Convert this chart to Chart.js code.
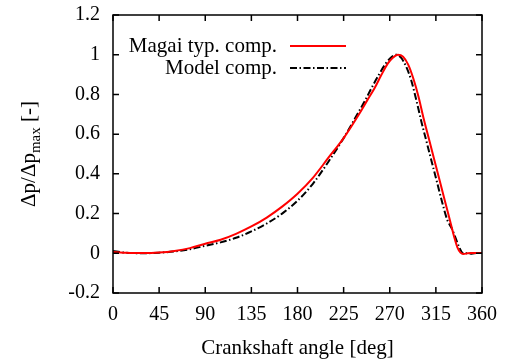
<!DOCTYPE html>
<html>
<head>
<meta charset="utf-8">
<script src="https://cdn.jsdelivr.net/npm/chart.js@4/dist/chart.umd.min.js"></script>
<style>
  html, body { margin: 0; padding: 0; background: #fff; }
  #wrap { width: 505px; height: 361px; }
</style>
</head>
<body>
<div id="wrap"><canvas id="chart-pressure"></canvas></div>
<script>
var magaiAngles = [0, 10, 20, 30, 45, 60, 75, 90, 105, 120, 135, 150, 165, 180, 195, 210, 225, 240, 248, 255, 262, 268, 273, 278, 283, 288, 293, 298, 303, 308, 313, 318, 323, 328, 333, 336, 339, 342, 346, 350, 355, 360];
var magaiValues = [0.006, 0.003, 0.001, 0.001, 0.004, 0.012, 0.026, 0.048, 0.068, 0.098, 0.135, 0.18, 0.235, 0.3, 0.38, 0.48, 0.58, 0.7, 0.77, 0.83, 0.9, 0.955, 0.985, 1.0, 0.99, 0.95, 0.88, 0.79, 0.68, 0.58, 0.48, 0.38, 0.28, 0.18, 0.08, 0.03, 0.003, -0.004, 0.0, 0.002, 0.002, 0.002];

var modelAngles = [0, 10, 20, 30, 45, 60, 75, 90, 105, 120, 135, 150, 165, 180, 195, 210, 225, 240, 246, 252, 260, 266, 271, 276, 281, 286, 291, 296, 301, 306, 311, 316, 321, 326, 331, 334, 337, 340, 343, 346, 350, 355, 360];
var modelValues = [0.012, 0.004, 0.001, 0.0, 0.003, 0.009, 0.02, 0.038, 0.055, 0.078, 0.11, 0.15, 0.2, 0.265, 0.35, 0.46, 0.58, 0.715, 0.77, 0.83, 0.905, 0.955, 0.985, 1.0, 0.985, 0.94, 0.87, 0.77, 0.66, 0.56, 0.46, 0.36, 0.26, 0.17, 0.12, 0.08, 0.04, 0.008, -0.005, 0.003, -0.002, 0.002, 0.0];

var seriesLabels = ['Magai typ. comp.', 'Model comp.'];
var xTickValues = [0, 45, 90, 135, 180, 225, 270, 315, 360];
var yTickValues = [-0.2, 0, 0.2, 0.4, 0.6, 0.8, 1, 1.2];

var FONT = '"Liberation Serif", "DejaVu Serif", serif';
var modelDash = [7, 2.5, 1.5, 2.5];

function toPoints(xs, ys) {
    return xs.map(function (x, i) { return { x: x, y: ys[i] }; });
}

// inward ticks on all four sides, frame, legend and axis titles
var framePlugin = {
    id: 'frame',
    afterDraw: function (chart) {
        var ctx = chart.ctx;
        var a = chart.chartArea;
        var xs = chart.scales.x, ys = chart.scales.y;
        ctx.save();
        ctx.strokeStyle = '#000';
        ctx.lineWidth = 1.5;
        ctx.beginPath();
        xTickValues.forEach(function (v) {
            var px = xs.getPixelForValue(v);
            ctx.moveTo(px, a.bottom); ctx.lineTo(px, a.bottom - 6);
            ctx.moveTo(px, a.top); ctx.lineTo(px, a.top + 6);
        });
        yTickValues.forEach(function (v) {
            var py = ys.getPixelForValue(v);
            ctx.moveTo(a.left, py); ctx.lineTo(a.left + 6, py);
            ctx.moveTo(a.right, py); ctx.lineTo(a.right - 6, py);
        });
        ctx.stroke();
        ctx.strokeRect(a.left, a.top, a.right - a.left, a.bottom - a.top);

        // legend
        ctx.font = '21px ' + FONT;
        ctx.fillStyle = '#000';
        ctx.textAlign = 'right';
        ctx.textBaseline = 'middle';
        var rows = [46, 68];
        chart.data.datasets.forEach(function (ds, i) {
            ctx.fillText(ds.label, 277, rows[i]);
            ctx.beginPath();
            ctx.lineWidth = 2;
            ctx.strokeStyle = ds.borderColor;
            ctx.setLineDash(ds.borderDash || []);
            ctx.moveTo(290, rows[i]);
            ctx.lineTo(346, rows[i]);
            ctx.stroke();
            ctx.setLineDash([]);
        });

        // x title
        ctx.textAlign = 'center';
        ctx.fillText('Crankshaft angle [deg]', (a.left + a.right) / 2, 348);

        // y title with subscript
        ctx.translate(28, (a.top + a.bottom) / 2);
        ctx.rotate(-Math.PI / 2);
        ctx.textAlign = 'left';
        ctx.textBaseline = 'alphabetic';
        var big = '21px ' + FONT, small = '15px ' + FONT;
        ctx.font = big;
        var w1 = ctx.measureText('\u0394p/\u0394p').width;
        var w3 = ctx.measureText(' [-]').width;
        ctx.font = small;
        var w2 = ctx.measureText('max').width;
        var x0 = -(w1 + w2 + w3) / 2;
        ctx.font = big;
        ctx.fillText('\u0394p/\u0394p', x0, 7);
        ctx.font = small;
        ctx.fillText('max', x0 + w1, 12);
        ctx.font = big;
        ctx.fillText(' [-]', x0 + w1 + w2, 7);
        ctx.restore();
    }
};

var config = {
    type: 'line',
    data: {
        datasets: [{
            label: seriesLabels[0],
            data: toPoints(magaiAngles, magaiValues),
            borderColor: '#ff0000',
            borderWidth: 2,
            pointRadius: 0,
            cubicInterpolationMode: 'monotone',
            fill: false
        }, {
            label: seriesLabels[1],
            data: toPoints(modelAngles, modelValues),
            borderColor: '#000000',
            borderWidth: 2,
            borderDash: modelDash,
            pointRadius: 0,
            cubicInterpolationMode: 'monotone',
            fill: false
        }]
    },
    options: {
        responsive: true,
        maintainAspectRatio: false,
        animation: false,
        events: [],
        layout: { padding: { left: 0, right: 23, top: 15, bottom: 0 } },
        plugins: {
            legend: { display: false },
            tooltip: { enabled: false }
        },
        scales: {
            x: {
                type: 'linear',
                min: 0,
                max: 360,
                afterBuildTicks: function (s) {
                    s.ticks = xTickValues.map(function (v) { return { value: v }; });
                },
                afterFit: function (s) {
                    s.height = 68;
                    s.paddingLeft = 0;
                    s.paddingRight = 0;
                },
                grid: { display: false, drawTicks: false },
                border: { display: false },
                ticks: {
                    padding: 10,
                    color: '#000',
                    maxRotation: 0,
                    font: { family: FONT, size: 20 }
                }
            },
            y: {
                type: 'linear',
                min: -0.2,
                max: 1.2,
                afterBuildTicks: function (s) {
                    s.ticks = yTickValues.map(function (v) { return { value: v }; });
                },
                afterFit: function (s) {
                    s.width = 113;
                    s.paddingTop = 0;
                    s.paddingBottom = 0;
                },
                grid: { display: false, drawTicks: false },
                border: { display: false },
                ticks: {
                    padding: 13,
                    color: '#000',
                    font: { family: FONT, size: 20 },
                    callback: function (v) { return String(Number(v.toFixed(1))); }
                }
            }
        }
    },
    plugins: [framePlugin]
};

window.onload = function () {
    var ctx = document.getElementById('chart-pressure').getContext('2d');
    window.myLine = new Chart(ctx, config);
};
</script>
</body>
</html>
